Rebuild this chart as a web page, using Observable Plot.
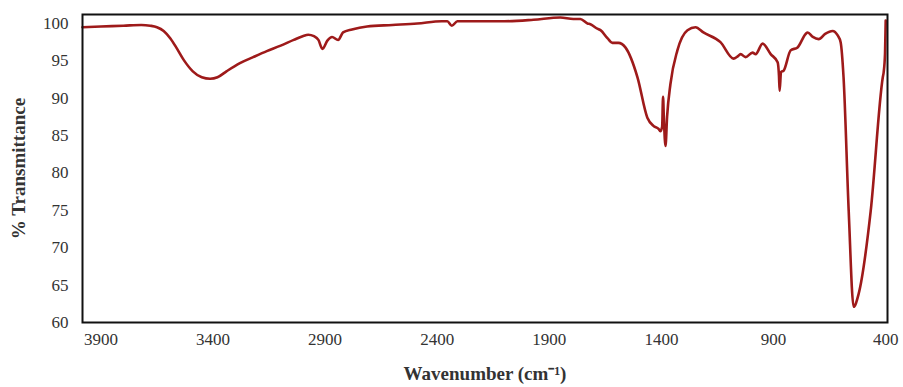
<!DOCTYPE html>
<html><head><meta charset="utf-8">
<script src="https://cdn.jsdelivr.net/npm/d3@7"></script>
<script src="https://cdn.jsdelivr.net/npm/@observablehq/plot@0.6"></script>
<style>body{margin:0;background:#fff} svg{display:block}</style>
</head><body><div id="chart"></div>
<script>
const wavenumber = [3982, 3900, 3800, 3720, 3680, 3650, 3620, 3590, 3560, 3530, 3490, 3450, 3413, 3380, 3340, 3280, 3221, 3160, 3101, 3040, 3000, 2975, 2950, 2930, 2912, 2890, 2869, 2842, 2820, 2780, 2713, 2600, 2489, 2380, 2355, 2335, 2310, 2200, 2100, 1971, 1851, 1793, 1762, 1730, 1717, 1686, 1672, 1640, 1619, 1592, 1561, 1507, 1463, 1436, 1413, 1405, 1397, 1393, 1389, 1382, 1375, 1360, 1329, 1284, 1248, 1213, 1137, 1079, 1060, 1047, 1025, 994, 980, 949, 913, 882, 876, 873, 867, 855, 824, 793, 757, 748, 725, 699, 670, 637, 614, 601, 588, 565, 543, 521, 467, 413, 409, 403, 400];
const transmittance = [99.5, 99.6, 99.7, 99.8, 99.7, 99.5, 99.0, 98.0, 96.6, 95.1, 93.6, 92.8, 92.6, 92.8, 93.6, 94.7, 95.5, 96.3, 97.0, 97.8, 98.3, 98.5, 98.3, 97.8, 96.6, 97.7, 98.2, 97.8, 98.8, 99.2, 99.6, 99.8, 100.0, 100.3, 100.3, 99.7, 100.3, 100.3, 100.3, 100.5, 100.8, 100.6, 100.6, 100.0, 99.9, 99.3, 99.1, 98.0, 97.4, 97.4, 96.8, 92.8, 87.4, 86.3, 85.9, 85.6, 86.2, 90.2, 87.0, 83.6, 87.5, 91.9, 96.4, 99.1, 99.5, 98.8, 97.5, 95.3, 95.6, 95.9, 95.5, 96.1, 95.9, 97.3, 95.9, 94.8, 93.0, 91.0, 93.5, 93.7, 96.4, 96.8, 98.6, 98.8, 98.2, 97.9, 98.6, 99.0, 98.4, 97.5, 92.8, 74.9, 62.1, 63.8, 74.9, 92.8, 93.5, 96.0, 100.4];
const xTicks = [3900, 3400, 2900, 2400, 1900, 1400, 900, 400];
const yTicks = [60, 65, 70, 75, 80, 85, 90, 95, 100];
const xLabel = "Wavenumber (cm⁻¹)";
const yLabel = "% Transmittance";

const data = wavenumber.map((w, i) => ({w, t: transmittance[i]}));
const chart = Plot.plot({
  width: 903, height: 387,
  marginLeft: 82, marginRight: 16, marginTop: 14, marginBottom: 65,
  style: {fontFamily: "'Liberation Serif', 'Times New Roman', serif", background: "#fff", color: "#333"},
  x: {domain: [3982, 392]},
  y: {domain: [60, 101.2]},
  marks: [
    Plot.axisX(xTicks, {tickSize: 0, tickPadding: 10, fontSize: 17, tickFormat: d => String(d), label: null}),
    Plot.axisX({ticks: [], label: xLabel, labelAnchor: "center", labelOffset: 57, fontSize: 19, fontWeight: "bold", labelArrow: "none"}),
    Plot.axisY(yTicks, {tickSize: 0, tickPadding: 14, fontSize: 17, tickFormat: d => String(d), label: null}),
    Plot.axisY({ticks: [], label: yLabel, labelAnchor: "center", labelOffset: 71, fontSize: 19, fontWeight: "bold", labelArrow: "none"}),
    Plot.line(data, {x: "w", y: "t", stroke: "#9e1a1a", strokeWidth: 2.6, curve: "monotone-x"}),
    Plot.frame({stroke: "#111", strokeWidth: 2})
  ]
});
document.getElementById("chart").append(chart);
</script>
</body></html>
